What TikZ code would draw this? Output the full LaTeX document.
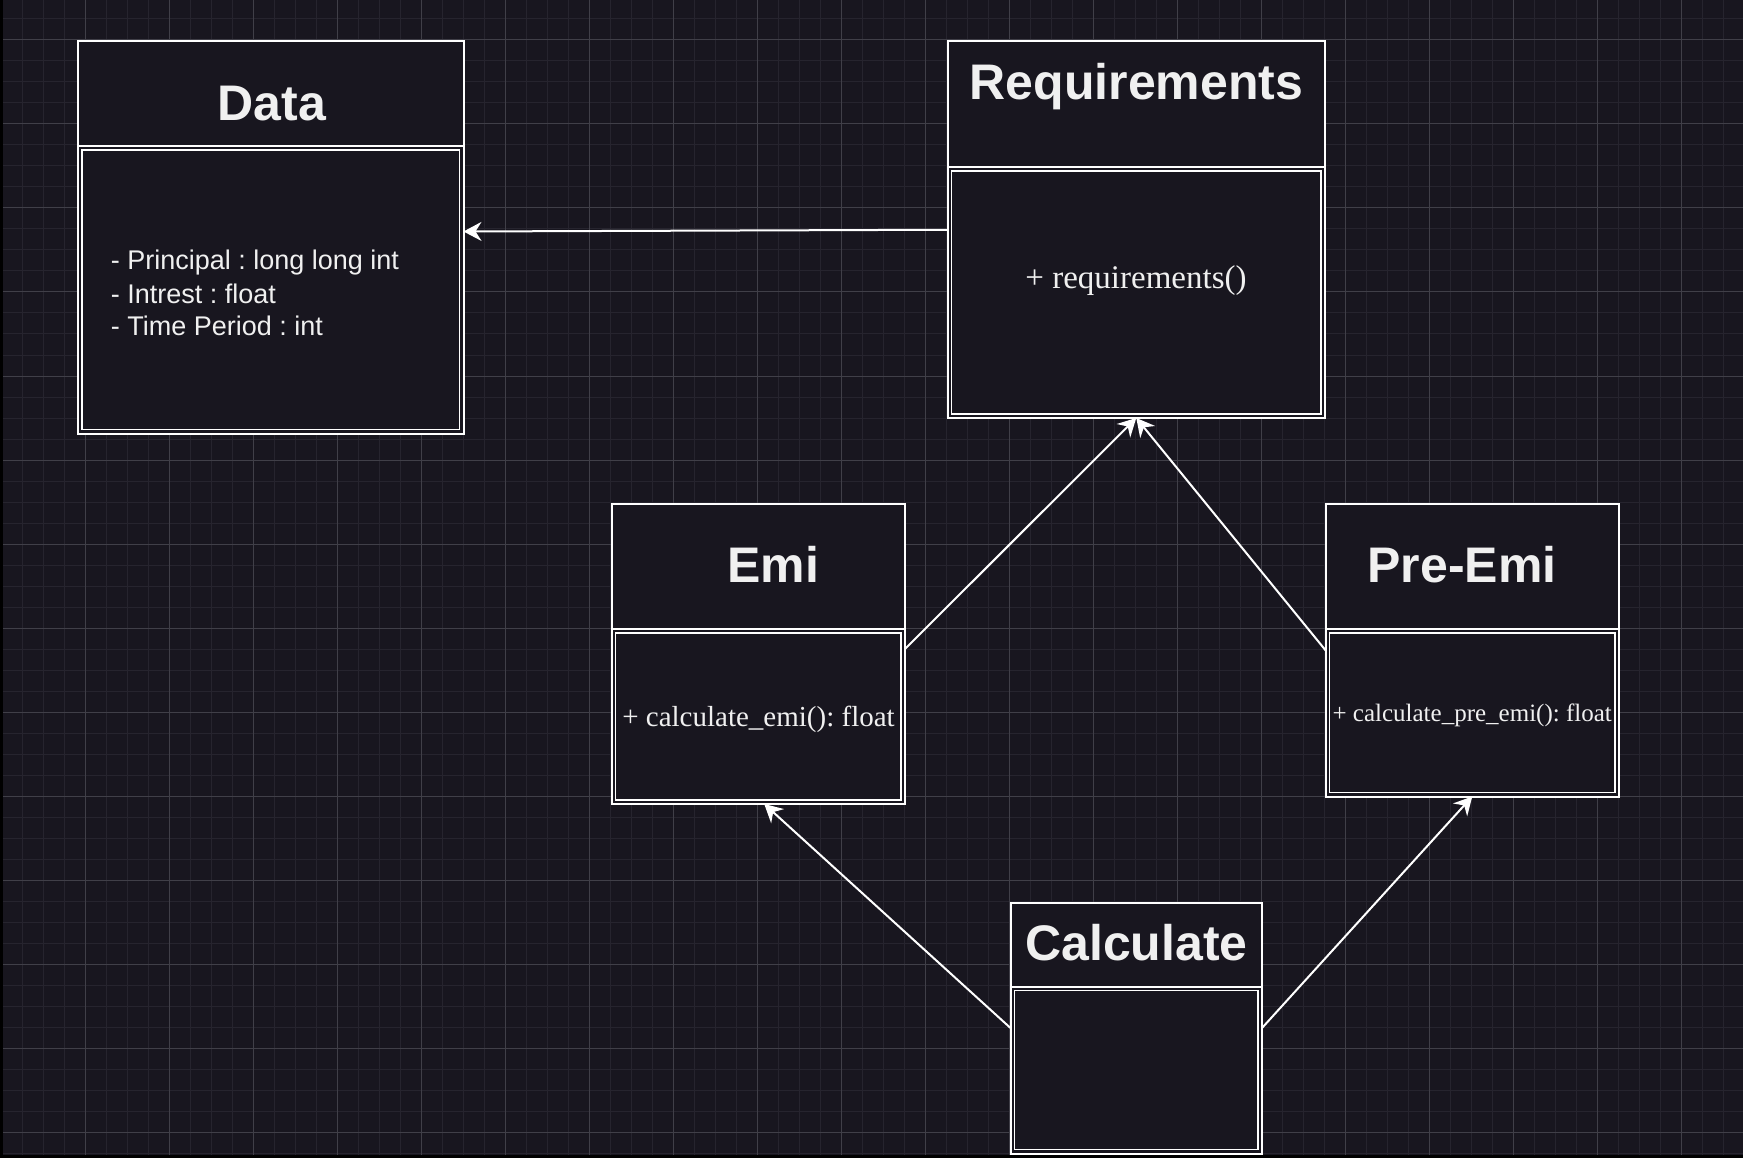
\documentclass[tikz,border=0pt]{standalone}
\usepackage{fontspec}
\setmainfont{Liberation Serif}
\setsansfont{Liberation Sans}
\usetikzlibrary{arrows.meta}
\frenchspacing
\definecolor{bg}{HTML}{18161F}
\definecolor{minorgrid}{HTML}{26242E}
\definecolor{majorgrid}{HTML}{403F48}
\definecolor{txt}{HTML}{F0F0F0}
\tikzset{
  classbox/.style={draw=white, fill=bg, line width=2pt, inner sep=0pt, outer sep=0pt},
  headpart/.style={inner sep=0pt, outer sep=0pt},
  bodypart/.style={draw=white!88, line width=1.5pt, inner sep=0pt, outer sep=0pt},
  sepline/.style={draw=white, line width=2pt},
  titletext/.style={text=txt, inner sep=0pt, anchor=base, font=\sffamily\bfseries\fontsize{50}{60}\selectfont},
  attrtext/.style={text=txt, inner sep=0pt, anchor=base west, font=\sffamily\fontsize{27}{33}\selectfont},
  methtext/.style={text=txt, inner sep=0pt, anchor=base},
  arr/.style={draw=white, line width=2pt, -{Stealth[length=18pt,width=19pt,inset=6pt]}},
  minorline/.style={draw=minorgrid, line width=1pt},
  majorline/.style={draw=majorgrid, line width=1pt}
}
\newcommand\umlclass[6]{%
  \node[classbox, anchor=north west, minimum width=#4, minimum height=#5+#6] (#1) at (#2,#3) {};
  \node[headpart, anchor=north west, minimum width=#4, minimum height=#5] (#1h) at (#2,#3) {};
  \node[bodypart, anchor=north west, minimum width=#4-8, minimum height=#6-8] (#1b) at ([shift={(4,4)}]#1h.south west) {};
  \draw[sepline] (#1h.south west) -- (#1h.south east);
}
\begin{document}
\begin{tikzpicture}[x=1pt,y=-1pt]
\useasboundingbox (0,0) rectangle (1743,1158);
\fill[bg] (0,0) rectangle (1743,1158);
% grid
\foreach \i in {0,...,83} {\draw[minorline] ({1.3+21*\i},0) -- ++(0,1158);}
\foreach \j in {0,...,56} {\draw[minorline] (0,{19+21*\j}) -- ++(1743,0);}
\foreach \i in {0,...,20} {\draw[majorline] ({1.3+84*\i},0) -- ++(0,1158);}
\foreach \j in {0,...,13} {\draw[majorline] (0,{40+84*\j}) -- ++(1743,0);}
\fill[black] (0,0) rectangle (2.5,1158);
\fill[black] (0,1155) rectangle (1743,1158);

% classes
\umlclass{data}{78}{41.5}{385.5}{104.5}{287.5}
\umlclass{req}{947.5}{41.5}{377.5}{125.5}{251}
\umlclass{emi}{611.5}{504}{293.5}{125}{175}
\umlclass{preemi}{1325.5}{504}{293.5}{125}{167.5}
\umlclass{calc}{1010.5}{902.5}{251.5}{84}{167}

% titles
\node[titletext] (datat) at (271.7,120.7) {Data};
\node[titletext] (reqt) at (1136.5,100) {Requirements};
\node[titletext] (emit) at (773.3,582.7) {Emi};
\node[titletext] (preemit) at (1462,582.7) {Pre-Emi};
\node[titletext] (calct) at (1136.5,960.7) {Calculate};

% attributes
\node[attrtext] (a1) at (110.7,270) {- Principal : long long int};
\node[attrtext] (a2) at (110.7,303.3) {- Intrest : float};
\node[attrtext] (a3) at (110.7,336) {- Time Period : int};

% methods
\node[methtext, font=\fontsize{33}{40}\selectfont] (m1) at (1136,288.3) {+ requirements()};
\node[methtext, font=\fontsize{29}{35}\selectfont] (m2) at (758.5,726.7) {+ calculate\_emi(): float};
\node[methtext, font=\fontsize{25}{30}\selectfont] (m3) at (1472.2,721) {+ calculate\_pre\_emi(): float};

% connectors
\draw[arr] (req.west) -- ([yshift=6pt]data.east);
\draw[arr] ([yshift=5pt]emi.east) -- (req.south);
\draw[arr] (preemi.west) -- (req.south);
\draw[arr] (calc.west) -- ([xshift=6pt]emi.south);
\draw[arr] (calc.east) -- (preemi.south);
\end{tikzpicture}
\end{document}
